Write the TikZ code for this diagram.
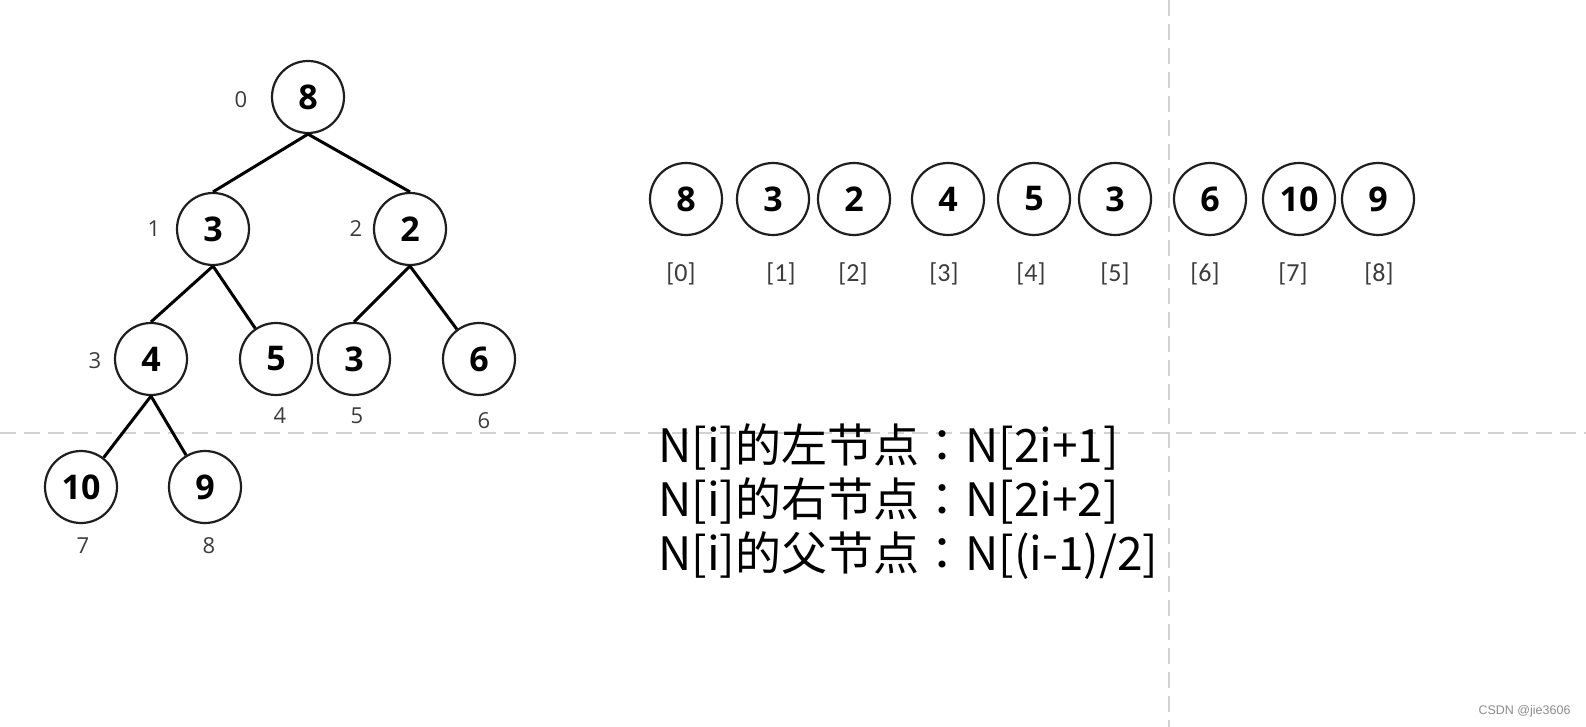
\documentclass[tikz,border=0pt]{standalone}
\usepackage{fontspec}
\setmainfont{Open Sans}
\newfontfamily\cjk{Noto Sans CJK SC}
\newfontfamily\cjkpunct{Noto Sans CJK TC}
\newfontfamily\idxfont{Carlito}
\newfontfamily\markfont{Liberation Sans}
\definecolor{guidegray}{HTML}{D2D2D2}
\definecolor{idxgray}{HTML}{3C3C3C}
\newcommand{\fwcolon}{{\cjkpunct ：}}

\begin{document}
\begin{tikzpicture}[x=1pt, y=-1pt,
    heapnode/.style={circle, draw=black!88, line width=2.2pt, minimum size=72pt, inner sep=0pt,
                     font=\bfseries\fontsize{34}{34}\selectfont},
    branch/.style={line width=3pt, black},
    treeidx/.style={idxgray, font=\fontsize{22}{22}\selectfont},
    slotidx/.style={idxgray, font=\idxfont\fontsize{26}{26}\selectfont},
    guide/.style={guidegray, line width=2.2pt, dash pattern=on 16pt off 8pt}]
    \useasboundingbox (0,0) rectangle (1586,727);
    \fill[white] (0,0) rectangle (1586,727);

    % Guides (dashed)
    \draw[guide] (0,433) -- (1586,433);
    \draw[guide] (1169,0) -- (1169,727);

    % Tree nodes (index/x/y/value)
    \foreach \k/\x/\y/\v in {0/308/97/8, 1/213/229/3, 2/410/229/2, 3/151/359/4, 4/276/359/5,
                             5/354/359/3, 6/479/359/6, 7/81/487/10, 8/205/487/9} {
        \node[heapnode] (t\k) at (\x,\y) {\v};
    }

    % Tree edges
    \foreach \p/\c in {0/1, 0/2, 1/3, 2/5}
        \draw[branch] (t\p.south) -- (t\c.north);
    \foreach \p/\c in {1/4, 2/6, 3/7, 3/8}
        \draw[branch] (t\p.south) -- (t\c);

    % Tree indices
    \foreach \k/\x/\y in {0/241/100, 1/154/229, 2/356/229, 3/95/361, 4/280/416,
                          5/357/416, 6/484/421, 7/83/546, 8/209/546} {
        \node[treeidx] (i\k) at (\x,\y) {\k};
    }

    % Array slots
    \foreach \k/\x/\v in {0/686/8, 1/773/3, 2/854/2, 3/948/4, 4/1034/5,
                          5/1115/3, 6/1210/6, 7/1299/10, 8/1378/9} {
        \node[heapnode] (a\k) at (\x,199) {\v};
    }
    \foreach \k/\x in {0/681, 1/781, 2/853, 3/944, 4/1031, 5/1115, 6/1205, 7/1293, 8/1379} {
        \node[slotidx] (s\k) at (\x,274) {[\k]};
    }

    % Rules
    \node[anchor=west, align=left, font=\cjk\fontsize{46}{54}\selectfont, inner sep=0pt] (rules) at (658,502)
        {N[i]的左节点\fwcolon N[2i+1]\\N[i]的右节点\fwcolon N[2i+2]\\N[i]的父节点\fwcolon N[(i-1)/2]};

    \node[anchor=east, black!45, font=\markfont\fontsize{12.5}{12.5}\selectfont] (mark) at (1574,711) {CSDN @jie3606};
\end{tikzpicture}
\end{document}
